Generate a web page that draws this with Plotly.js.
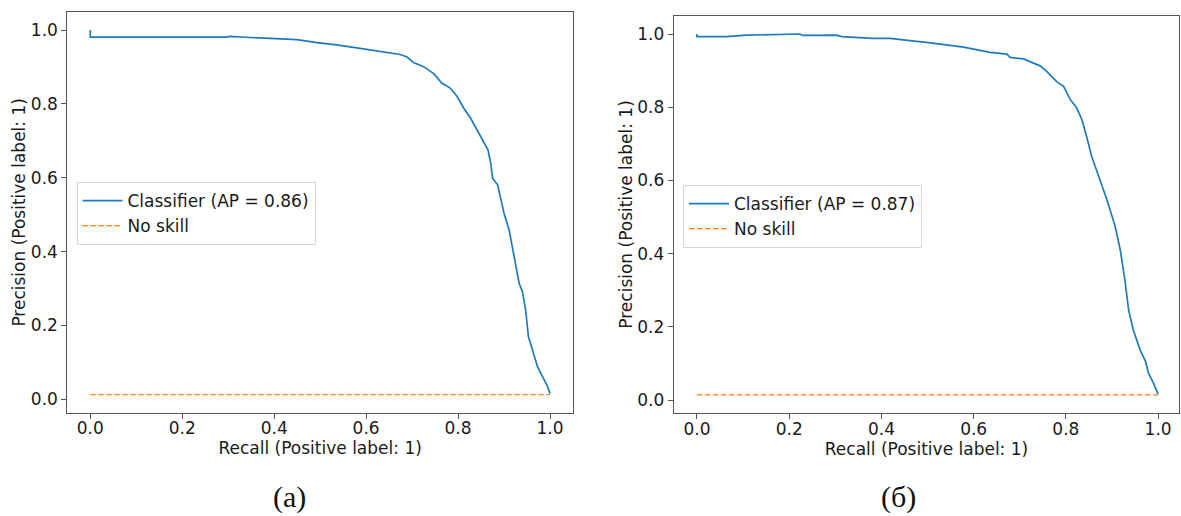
<!DOCTYPE html>
<html>
<head>
<meta charset="utf-8">
<script src="https://cdn.plot.ly/plotly-3.0.1.min.js"></script>
<style>html,body{margin:0;padding:0;background:#fff;}#chart{width:1181px;height:516px;}</style>
</head>
<body>
<div id="chart"></div>
<script>
// Left panel (a)
const recallA = [0, 0, 0.295, 0.303, 0.348, 0.4205, 0.4495, 0.493, 0.536, 0.594, 0.638, 0.674, 0.689, 0.703, 0.725, 0.747, 0.765, 0.783, 0.798, 0.812, 0.827, 0.841, 0.853, 0.865, 0.871, 0.875, 0.886, 0.893, 0.900, 0.911, 0.918, 0.926, 0.933, 0.940, 0.947, 0.953, 0.962, 0.973, 0.984, 0.995, 1.0];
const precisionA = [1.0, 0.981, 0.981, 0.983, 0.980, 0.977, 0.974, 0.966, 0.960, 0.949, 0.941, 0.934, 0.927, 0.912, 0.901, 0.882, 0.856, 0.843, 0.820, 0.789, 0.762, 0.730, 0.705, 0.676, 0.640, 0.599, 0.581, 0.540, 0.504, 0.459, 0.414, 0.359, 0.314, 0.292, 0.242, 0.170, 0.134, 0.088, 0.061, 0.034, 0.016];
// Right panel (б)
const recallB = [0, 0, 0.064, 0.108, 0.223, 0.230, 0.303, 0.314, 0.382, 0.419, 0.476, 0.498, 0.578, 0.636, 0.672, 0.679, 0.708, 0.744, 0.759, 0.780, 0.795, 0.809, 0.824, 0.835, 0.845, 0.856, 0.874, 0.889, 0.907, 0.918, 0.928, 0.936, 0.946, 0.961, 0.973, 0.979, 0.990, 1.0];
const precisionB = [1.0, 0.993, 0.993, 0.997, 1.0, 0.996, 0.997, 0.993, 0.988, 0.988, 0.980, 0.977, 0.964, 0.950, 0.945, 0.936, 0.932, 0.913, 0.897, 0.870, 0.857, 0.822, 0.797, 0.765, 0.720, 0.665, 0.601, 0.547, 0.474, 0.410, 0.328, 0.247, 0.192, 0.137, 0.105, 0.074, 0.046, 0.016];
// No-skill baseline (positive class ratio)
const noSkillX = [0, 1];
const noSkillA = [0.013, 0.013];
const noSkillB = [0.014, 0.014];
const namesA = ["Classifier (AP = 0.86)", "No skill"];
const namesB = ["Classifier (AP = 0.87)", "No skill"];
const tickVals = [0, 0.2, 0.4, 0.6, 0.8, 1.0];
const tickText = ["0.0", "0.2", "0.4", "0.6", "0.8", "1.0"];
const panelLabels = ["(a)", "(б)"];
const xTitle = "Recall (Positive label: 1)";
const yTitle = "Precision (Positive label: 1)";

const BLUE = "#1f7bbd";
const ORANGE = "#ff7f0e";
const FONT = "DejaVu Sans, sans-serif";
const FS = 17;
const TXT = "#1a1a1a";

const traces = [
  {x: recallA, y: precisionA, type: "scatter", mode: "lines", name: namesA[0],
   line: {color: BLUE, width: 1.7}, xaxis: "x", yaxis: "y", legend: "legend"},
  {x: noSkillX, y: noSkillA, type: "scatter", mode: "lines", name: namesA[1],
   line: {color: ORANGE, width: 1.4, dash: "5.5px,2.5px"}, xaxis: "x", yaxis: "y", legend: "legend"},
  {x: recallB, y: precisionB, type: "scatter", mode: "lines", name: namesB[0],
   line: {color: BLUE, width: 1.7}, xaxis: "x2", yaxis: "y2", legend: "legend2"},
  {x: noSkillX, y: noSkillB, type: "scatter", mode: "lines", name: namesB[1],
   line: {color: ORANGE, width: 1.4, dash: "5.5px,2.5px"}, xaxis: "x2", yaxis: "y2", legend: "legend2"}
];

function axisCommon() {
  return {
    showgrid: false, zeroline: false, showline: true, mirror: true,
    linecolor: "#555", linewidth: 1,
    ticks: "outside", ticklen: 5, tickwidth: 1, tickcolor: "#555",
    tickvals: tickVals, ticktext: tickText,
    tickfont: {family: FONT, size: FS, color: TXT},
    fixedrange: true
  };
}

const W = 1181, H = 516;
const legendCommon = {
  bgcolor: "#ffffff", bordercolor: "#d6d6d6", borderwidth: 1,
  font: {family: FONT, size: FS, color: TXT},
  xanchor: "left", yanchor: "top", tracegroupgap: 0, itemwidth: 40
};

const layout = {
  width: W, height: H,
  margin: {l: 0, r: 0, t: 0, b: 0},
  paper_bgcolor: "#ffffff", plot_bgcolor: "#ffffff",
  showlegend: true,
  xaxis: Object.assign(axisCommon(), {
    domain: [67.3 / W, 573 / W], range: [-0.05, 1.05], anchor: "y", ticklabelstandoff: -5,
    title: {text: xTitle, font: {family: FONT, size: FS, color: TXT}, standoff: 0}
  }),
  yaxis: Object.assign(axisCommon(), {
    domain: [1 - 412.7 / H, 1 - 12 / H], range: [-0.036, 1.049], anchor: "x",
    title: {text: yTitle, font: {family: FONT, size: FS, color: TXT}, standoff: 0}
  }),
  xaxis2: Object.assign(axisCommon(), {
    domain: [673.7 / W, 1179.3 / W], range: [-0.0505, 1.046], anchor: "y2", ticklabelstandoff: -5,
    title: {text: xTitle, font: {family: FONT, size: FS, color: TXT}, standoff: 0}
  }),
  yaxis2: Object.assign(axisCommon(), {
    domain: [1 - 413.2 / H, 1 - 15.7 / H], range: [-0.036, 1.05], anchor: "x2",
    title: {text: yTitle, font: {family: FONT, size: FS, color: TXT}, standoff: 0}
  }),
  legend: Object.assign({}, legendCommon, {x: 76.5 / W, y: 1 - 182 / H}),
  legend2: Object.assign({}, legendCommon, {x: 683 / W, y: 1 - 185 / H}),
  annotations: [
    {text: panelLabels[0], xref: "paper", yref: "paper", x: 289.5 / W, y: 0,
     xanchor: "center", yanchor: "bottom", showarrow: false,
     font: {family: "Liberation Serif, Times New Roman, serif", size: 30, color: "#111"}},
    {text: panelLabels[1], xref: "paper", yref: "paper", x: 898 / W, y: 0,
     xanchor: "center", yanchor: "bottom", showarrow: false,
     font: {family: "Liberation Serif, Times New Roman, serif", size: 30, color: "#111"}}
  ]
};

Plotly.newPlot("chart", traces, layout, {displayModeBar: false, staticPlot: true});
</script>
</body>
</html>
